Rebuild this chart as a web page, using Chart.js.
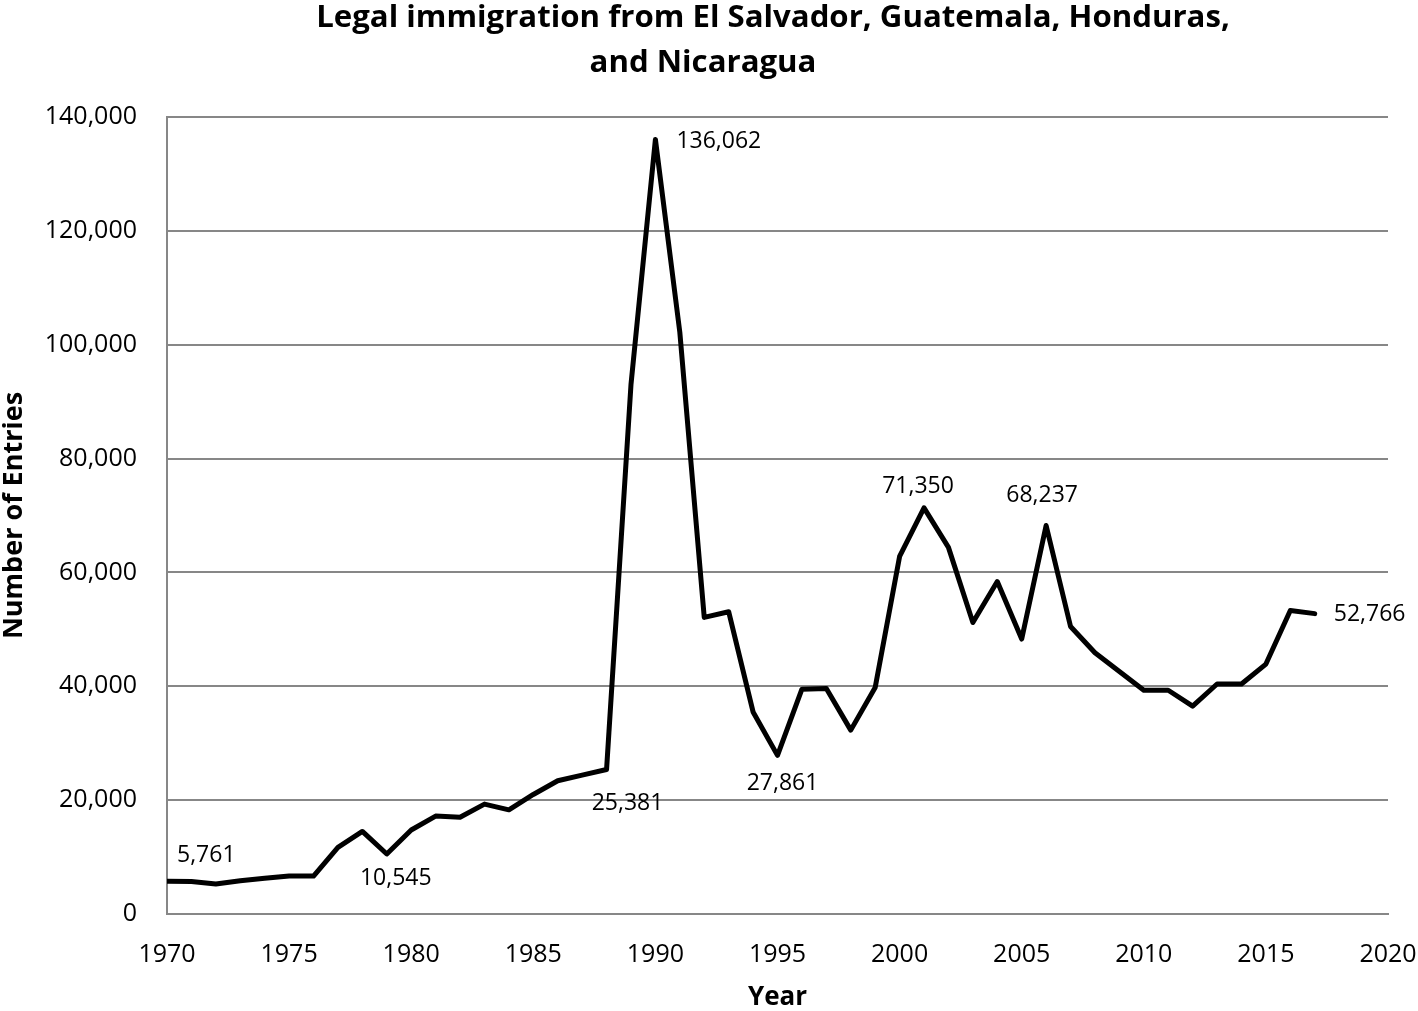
<!DOCTYPE html>
<html>
<head>
<meta charset="utf-8">
<script src="https://cdn.jsdelivr.net/npm/chart.js@4.4.1/dist/chart.umd.min.js"></script>
<style>
  html, body { margin: 0; padding: 0; background: #ffffff; }
  canvas { display: block; }
</style>
</head>
<body>
<canvas id="c" width="1418" height="1011"></canvas>
<script>
// ---- data ----
const years = [1970, 1971, 1972, 1973, 1974, 1975, 1976, 1977, 1978, 1979,
               1980, 1981, 1982, 1983, 1984, 1985, 1986, 1987, 1988, 1989,
               1990, 1991, 1992, 1993, 1994, 1995, 1996, 1997, 1998, 1999,
               2000, 2001, 2002, 2003, 2004, 2005, 2006, 2007, 2008, 2009,
               2010, 2011, 2012, 2013, 2014, 2015, 2016, 2017];
const entries = [5761, 5700, 5270, 5850, 6270, 6670, 6670, 11700, 14500, 10545,
                 14750, 17200, 17000, 19300, 18300, 21000, 23400, 24400, 25381, 93000,
                 136062, 102200, 52100, 53100, 35500, 27861, 39500, 39600, 32300, 39800,
                 62800, 71350, 64400, 51200, 58400, 48300, 68237, 50500, 45900, 42600,
                 39300, 39300, 36500, 40400, 40400, 43900, 53300, 52766];
const labeledYears = [1970, 1979, 1988, 1990, 1995, 2001, 2006, 2017];
const xTicks = [1970, 1975, 1980, 1985, 1990, 1995, 2000, 2005, 2010, 2015, 2020];
const yTicks = [0, 20000, 40000, 60000, 80000, 100000, 120000, 140000];
const titleLines = ['Legal immigration from El Salvador, Guatemala, Honduras,', 'and Nicaragua'];
const xTitle = 'Year';
const yTitle = 'Number of Entries';

// ---- styles ----
const FONT = "'Open Sans', 'DejaVu Sans', sans-serif";
const GRID = '#878787';
// label placement: [align, dx, dy] relative to the data point
const labelPlacement = {
  1970: ['left', 10, -26],
  1979: ['center', 9, 24],
  1988: ['center', 21, 34],
  1990: ['left', 21, 2],
  1995: ['center', 5, 28],
  2001: ['center', -6, -21],
  2006: ['center', -4, -30],
  2017: ['left', 19, 1]
};
const fmt = v => Number(v).toLocaleString('en-US');

const overlay = {
  id: 'overlay',
  afterDraw(chart) {
    const ctx = chart.ctx;
    const xs = chart.scales.x, ys = chart.scales.y;
    ctx.save();
    // title (width-fitted)
    ctx.fillStyle = '#000';
    ctx.textBaseline = 'alphabetic';
    ctx.textAlign = 'center';
    ctx.font = "bold 100px " + FONT;
    const w = ctx.measureText(titleLines[0]).width;
    const size = 100 * 914 / w;
    ctx.font = "bold " + size.toFixed(2) + "px " + FONT;
    const cap = 0.714 * size;
    ctx.fillText(titleLines[0], 773, 16 + cap / 2);
    ctx.fillText(titleLines[1], 703, 61 + cap / 2);
    // data labels
    ctx.font = "23px " + FONT;
    ctx.textBaseline = 'middle';
    labeledYears.forEach(yr => {
      const i = years.indexOf(yr);
      const p = labelPlacement[yr];
      const px = xs.getPixelForValue(yr);
      const py = ys.getPixelForValue(entries[i]);
      ctx.textAlign = p[0];
      ctx.fillText(fmt(entries[i]), px + p[1], py + p[2]);
    });
    ctx.restore();
  }
};

new Chart(document.getElementById('c'), {
  type: 'line',
  data: {
    datasets: [{
      data: years.map((y, i) => ({ x: y, y: entries[i] })),
      borderColor: '#000000',
      borderWidth: 5,
      pointRadius: 0,
      tension: 0,
      borderJoinStyle: 'round',
      borderCapStyle: 'round',
      fill: false
    }]
  },
  options: {
    responsive: false,
    devicePixelRatio: 1,
    animation: false,
    layout: { padding: { top: 117, right: 30, bottom: 0, left: 0 } },
    plugins: { legend: { display: false }, title: { display: false }, tooltip: { enabled: false } },
    scales: {
      x: {
        type: 'linear',
        min: 1970, max: 2020,
        afterBuildTicks: s => { s.ticks = xTicks.map(v => ({ value: v })); },
        ticks: { callback: v => String(v), color: '#000', font: { family: FONT, size: 25 }, padding: 26, maxRotation: 0, autoSkip: false },
        grid: { display: false, drawTicks: false },
        border: { display: true, color: GRID, width: 2 },
        title: { display: true, text: xTitle, color: '#000', font: { family: FONT, size: 26, weight: 'bold', lineHeight: 1 }, padding: { top: 0, bottom: 0 } },
        afterFit: s => { s.height = 97; s.paddingLeft = 0; s.paddingRight = 0; }
      },
      y: {
        min: 0, max: 140000,
        afterBuildTicks: s => { s.ticks = yTicks.map(v => ({ value: v })); },
        ticks: { callback: v => fmt(v), color: '#000', font: { family: FONT, size: 25 }, padding: 30, autoSkip: false },
        grid: { color: GRID, lineWidth: 2, drawTicks: false },
        border: { display: true, color: GRID, width: 2 },
        title: { display: true, text: yTitle, color: '#000', font: { family: FONT, size: 27, weight: 'bold', lineHeight: 1 }, padding: { top: 1, bottom: 0 } },
        afterFit: s => { s.width = 167; s.paddingTop = 0; s.paddingBottom = 0; }
      }
    }
  },
  plugins: [overlay]
});
</script>
</body>
</html>
